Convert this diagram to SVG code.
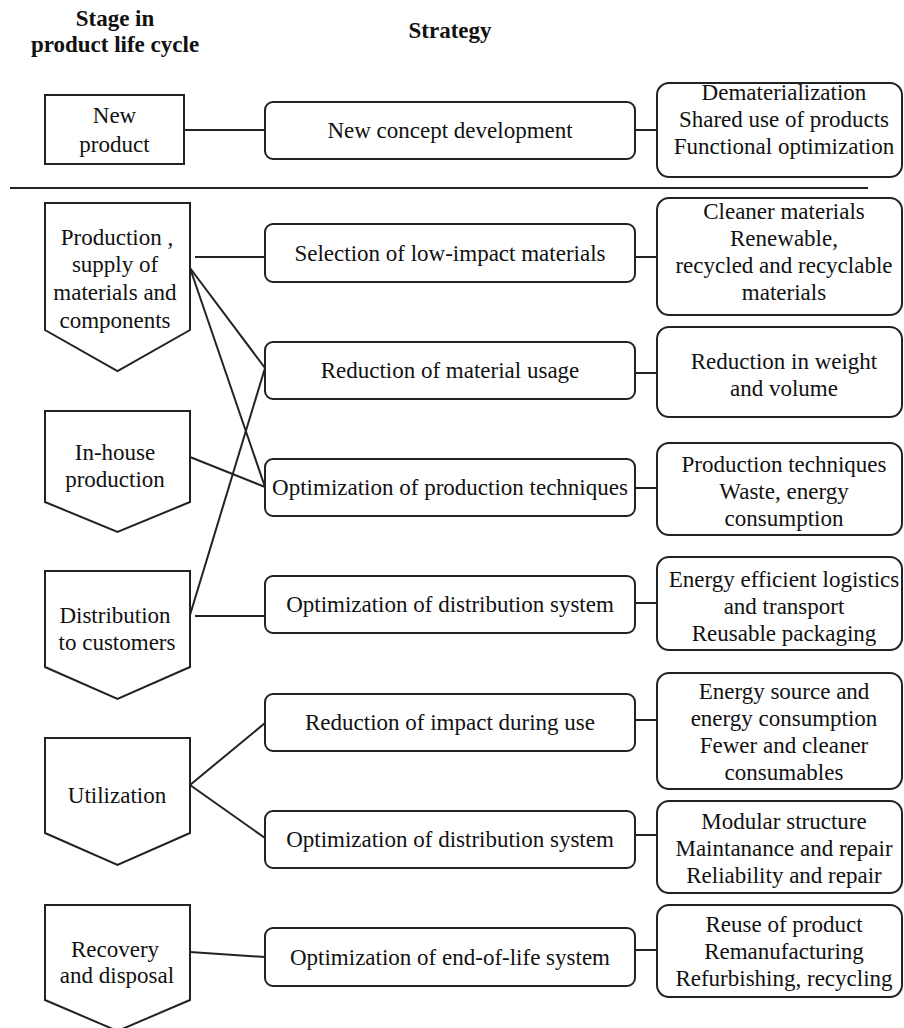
<svg xmlns="http://www.w3.org/2000/svg" width="904" height="1028" viewBox="0 0 904 1028">
<style>
.s{fill:#fff;stroke:#222;stroke-width:2}
.c{fill:none;stroke:#222;stroke-width:2}
text{font-family:"Liberation Serif","Times New Roman",serif;font-size:23px;fill:#111;text-anchor:middle}
.h{font-weight:bold}
</style>
<rect width="904" height="1028" fill="#fff"/>
<g id="headers">
<text class="h" x="115" y="26">Stage in</text>
<text class="h" x="115" y="52">product life cycle</text>
<text class="h" x="450" y="38">Strategy</text>
</g>
<line class="c" x1="10" y1="188" x2="868" y2="188"/>
<g id="connectors">
<line class="c" x1="184" y1="130" x2="265" y2="130"/>
<line class="c" x1="195" y1="257" x2="265" y2="257"/>
<line class="c" x1="190" y1="268" x2="265" y2="368"/>
<line class="c" x1="190" y1="268" x2="265" y2="487"/>
<line class="c" x1="190" y1="457" x2="265" y2="487"/>
<line class="c" x1="190" y1="615" x2="265" y2="368"/>
<line class="c" x1="195" y1="616" x2="265" y2="616"/>
<line class="c" x1="190" y1="785" x2="265" y2="723"/>
<line class="c" x1="190" y1="785" x2="265" y2="838"/>
<line class="c" x1="190" y1="952" x2="265" y2="957"/>
<line class="c" x1="635" y1="130" x2="657" y2="130"/>
<line class="c" x1="635" y1="257" x2="657" y2="257"/>
<line class="c" x1="635" y1="373" x2="657" y2="373"/>
<line class="c" x1="635" y1="488" x2="657" y2="488"/>
<line class="c" x1="635" y1="603" x2="657" y2="603"/>
<line class="c" x1="635" y1="720" x2="657" y2="720"/>
<line class="c" x1="635" y1="835" x2="657" y2="835"/>
<line class="c" x1="635" y1="950" x2="657" y2="950"/>
</g>
<g id="stage-new-product"><rect class="s" x="45" y="95" width="139" height="69"/><text x="114.5" y="123">New</text><text x="114.5" y="152">product</text></g>
<g id="stage-production"><polygon class="s" points="45,203 190,203 190,330 117.5,371 45,330"/><text x="117" y="245">Production ,</text><text x="115" y="272">supply of</text><text x="115" y="300">materials and</text><text x="115" y="328">components</text></g>
<g id="stage-inhouse"><polygon class="s" points="45,411 190,411 190,502 117.5,532 45,502"/><text x="115" y="460">In-house</text><text x="115" y="487">production</text></g>
<g id="stage-distribution"><polygon class="s" points="45,571 190,571 190,667 117.5,699 45,667"/><text x="115" y="623">Distribution</text><text x="117" y="650">to customers</text></g>
<g id="stage-utilization"><polygon class="s" points="45,738 190,738 190,833 117.5,865 45,833"/><text x="117" y="803">Utilization</text></g>
<g id="stage-recovery"><polygon class="s" points="45,905 190,905 190,1000 117.5,1031 45,1000"/><text x="115" y="957">Recovery</text><text x="117" y="983">and disposal</text></g>
<g id="strat-1"><rect class="s" x="265" y="102" width="370" height="57" rx="8"/><text x="450" y="138">New concept development</text></g>
<g id="strat-2"><rect class="s" x="265" y="224" width="370" height="58" rx="8"/><text x="450" y="261">Selection of low-impact materials</text></g>
<g id="strat-3"><rect class="s" x="265" y="342" width="370" height="57" rx="8"/><text x="450" y="378">Reduction of material usage</text></g>
<g id="strat-4"><rect class="s" x="265" y="459" width="370" height="57" rx="8"/><text x="450" y="495">Optimization of production techniques</text></g>
<g id="strat-5"><rect class="s" x="265" y="576" width="370" height="57" rx="8"/><text x="450" y="612">Optimization of distribution system</text></g>
<g id="strat-6"><rect class="s" x="265" y="694" width="370" height="57" rx="8"/><text x="450" y="730">Reduction of impact during use</text></g>
<g id="strat-7"><rect class="s" x="265" y="811" width="370" height="57" rx="8"/><text x="450" y="847">Optimization of distribution system</text></g>
<g id="strat-8"><rect class="s" x="265" y="928" width="370" height="58" rx="8"/><text x="450" y="965">Optimization of end-of-life system</text></g>
<g id="detail-1"><rect class="s" x="657" y="83" width="245" height="94" rx="12"/><text x="784" y="100">Dematerialization</text><text x="784" y="127">Shared use of products</text><text x="784" y="154">Functional optimization</text></g>
<g id="detail-2"><rect class="s" x="657" y="198" width="245" height="117" rx="12"/><text x="784" y="219">Cleaner materials</text><text x="784" y="246">Renewable,</text><text x="784" y="273">recycled and recyclable</text><text x="784" y="300">materials</text></g>
<g id="detail-3"><rect class="s" x="657" y="327" width="245" height="90" rx="12"/><text x="784" y="369">Reduction in weight</text><text x="784" y="396">and volume</text></g>
<g id="detail-4"><rect class="s" x="657" y="443" width="245" height="92" rx="12"/><text x="784" y="472">Production techniques</text><text x="784" y="499">Waste, energy</text><text x="784" y="526">consumption</text></g>
<g id="detail-5"><rect class="s" x="657" y="557" width="245" height="93" rx="12"/><text x="784" y="587">Energy efficient logistics</text><text x="784" y="614">and transport</text><text x="784" y="641">Reusable packaging</text></g>
<g id="detail-6"><rect class="s" x="657" y="673" width="245" height="116" rx="12"/><text x="784" y="699">Energy source and</text><text x="784" y="726">energy consumption</text><text x="784" y="753">Fewer and cleaner</text><text x="784" y="780">consumables</text></g>
<g id="detail-7"><rect class="s" x="657" y="801" width="245" height="92" rx="12"/><text x="784" y="829">Modular structure</text><text x="784" y="856">Maintanance and repair</text><text x="784" y="883">Reliability and repair</text></g>
<g id="detail-8"><rect class="s" x="657" y="905" width="245" height="92" rx="12"/><text x="784" y="932">Reuse of product</text><text x="784" y="959">Remanufacturing</text><text x="784" y="986">Refurbishing, recycling</text></g>
</svg>
